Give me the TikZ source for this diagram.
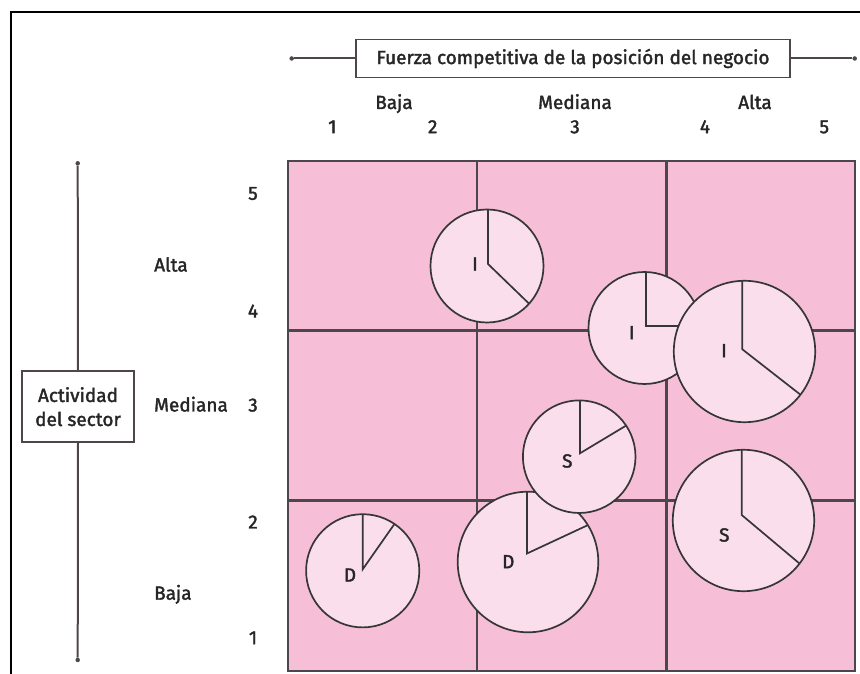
\documentclass[tikz,border=0pt]{standalone}
\usepackage{fontspec}
\setmainfont{Fira Sans}[FakeBold=1.8]
\definecolor{cellpink}{HTML}{F6BED7}
\definecolor{piepink}{HTML}{FADEEC}
\definecolor{ink}{HTML}{262626}
\definecolor{gline}{HTML}{4D474B}
\definecolor{pline}{HTML}{363636}
\begin{document}
\begin{tikzpicture}[x=1pt,y=1pt,
  lbl/.style={font=\fontsize{19}{22}\selectfont, text=ink, inner sep=0pt},
  piecircle/.style={circle, fill=piepink, draw=pline, line width=1.7pt, inner sep=0pt},
  piecut/.style={draw=pline, line width=1.7pt, line join=miter},
  framebox/.style={draw=gline, line width=1.8pt, fill=white, text=ink, inner sep=0pt, font=\fontsize{19}{24}\selectfont},
  axisline/.style={draw=gline, line width=2pt},
  dot/.style={circle, fill=gline, inner sep=0pt, minimum size=4.5pt},
  gridline/.style={draw=gline, line width=2.1pt}]
\useasboundingbox (0,0) rectangle (860,674);
% outer frame
\draw[line width=2pt, black] (10.7,-2) -- (10.7,661.7) -- (862,661.7);

% grid
\fill[cellpink] (288,3) rectangle (855,513);
\draw[gridline] (477,3) -- (477,513);
\draw[gridline] (666.5,3) -- (666.5,513);
\draw[gridline] (288,343.5) -- (855,343.5);
\draw[gridline] (288,173.5) -- (855,173.5);
\draw[gridline] (288,3) rectangle (855,513);

% header axis
\node[framebox, minimum width=434pt, minimum height=38pt] (hbox) at (573,615.5) {Fuerza competitiva de la posición del negocio};
\node[dot] (hl) at (291.7,615.5) {};
\node[dot] (hr) at (854.7,615.5) {};
\draw[axisline] (hl) -- (hbox.west);
\draw[axisline] (hbox.east) -- (hr);

\node[lbl, anchor=base] (cbaja) at (394,565) {Baja};
\node[lbl, anchor=base] (cmed) at (575,565) {Mediana};
\node[lbl, anchor=base] (calta) at (755,565) {Alta};
\node[lbl, anchor=base] (c1) at (332.3,540.8) {1};
\node[lbl, anchor=base] (c2) at (432.7,540.8) {2};
\node[lbl, anchor=base] (c3) at (575,540.8) {3};
\node[lbl, anchor=base] (c4) at (705,540.8) {4};
\node[lbl, anchor=base] (c5) at (824.3,540.8) {5};

% left axis
\node[framebox, minimum width=112.6pt, minimum height=71.3pt, align=center] (vbox) at (78,267.3) {Actividad\\del sector};
\node[dot] (vt) at (77.7,510.7) {};
\node[dot] (vb) at (77.7,14) {};
\draw[axisline] (vt) -- (vbox.north);
\draw[axisline] (vbox.south) -- (vb);

\node[lbl, anchor=base west] (ralta) at (154,402.5) {Alta};
\node[lbl, anchor=base west] (rmed) at (154,262.5) {Mediana};
\node[lbl, anchor=base west] (rbaja) at (154,74.3) {Baja};
\node[lbl, anchor=base] (r5) at (253,474.2) {5};
\node[lbl, anchor=base] (r4) at (253,356.5) {4};
\node[lbl, anchor=base] (r3) at (253,262.5) {3};
\node[lbl, anchor=base] (r2) at (253,145.5) {2};
\node[lbl, anchor=base] (r1) at (253,29.8) {1};

% pies
% 1 top I
\node[piecircle, minimum size=113pt] (pa) at (487,408) {};
\coordinate (pat) at (488,464.5); \coordinate (pav) at (488,410); \coordinate (pae) at (529.1,370.3);
\draw[piecut] (pat) -- (pav) -- (pae);
\node[lbl] (la) at (475,410) {I};
% 2 mid I
\node[piecircle, minimum size=112pt] (pb) at (644.5,346) {};
\coordinate (pbt) at (645.7,402); \coordinate (pbv) at (645.7,348.3); \coordinate (pbe) at (700.4,348.3);
\draw[piecut] (pbt) -- (pbv) -- (pbe);
\node[lbl] (lb) at (631.7,341.3) {I};
% 3 big I
\node[piecircle, minimum size=141.4pt] (pc) at (744.5,322.5) {};
\coordinate (pct) at (742.3,393.2); \coordinate (pcv) at (742.3,324.7); \coordinate (pce) at (800.45,279.3);
\draw[piecut] (pct) -- (pcv) -- (pce);
\node[lbl] (lc) at (724,323.3) {I};
% 7 big D
\node[piecircle, minimum size=140.6pt] (pg) at (528,112) {};
\coordinate (pgt) at (527,182.3); \coordinate (pgv) at (527,120.5); \coordinate (pge) at (587.85,148.87);
\draw[piecut] (pgt) -- (pgv) -- (pge);
\node[lbl] (lg) at (508.3,112.3) {D};
% 4 mid S
\node[piecircle, minimum size=112.6pt] (pd) at (579.2,217.3) {};
\coordinate (pdt) at (580,273.6); \coordinate (pdv) at (580,220.7); \coordinate (pde) at (626.1,248.4);
\draw[piecut] (pdt) -- (pdv) -- (pde);
\node[lbl] (ld) at (567.3,213) {S};
% 5 right S
\node[piecircle, minimum size=141.4pt] (pe) at (743.5,153.5) {};
\coordinate (pet) at (741.7,224.2); \coordinate (pev) at (741.7,159); \coordinate (pee) at (799.6,110.4);
\draw[piecut] (pet) -- (pev) -- (pee);
\node[lbl] (le) at (724.3,139) {S};
% 6 small D
\node[piecircle, minimum size=113.2pt] (pf) at (362.7,103.2) {};
\coordinate (pft) at (362.7,159.8); \coordinate (pfv) at (362.7,104.7); \coordinate (pfe) at (394.5,150.05);
\draw[piecut] (pft) -- (pfv) -- (pfe);
\node[lbl] (lf) at (350,99) {D};
\end{tikzpicture}
\end{document}
